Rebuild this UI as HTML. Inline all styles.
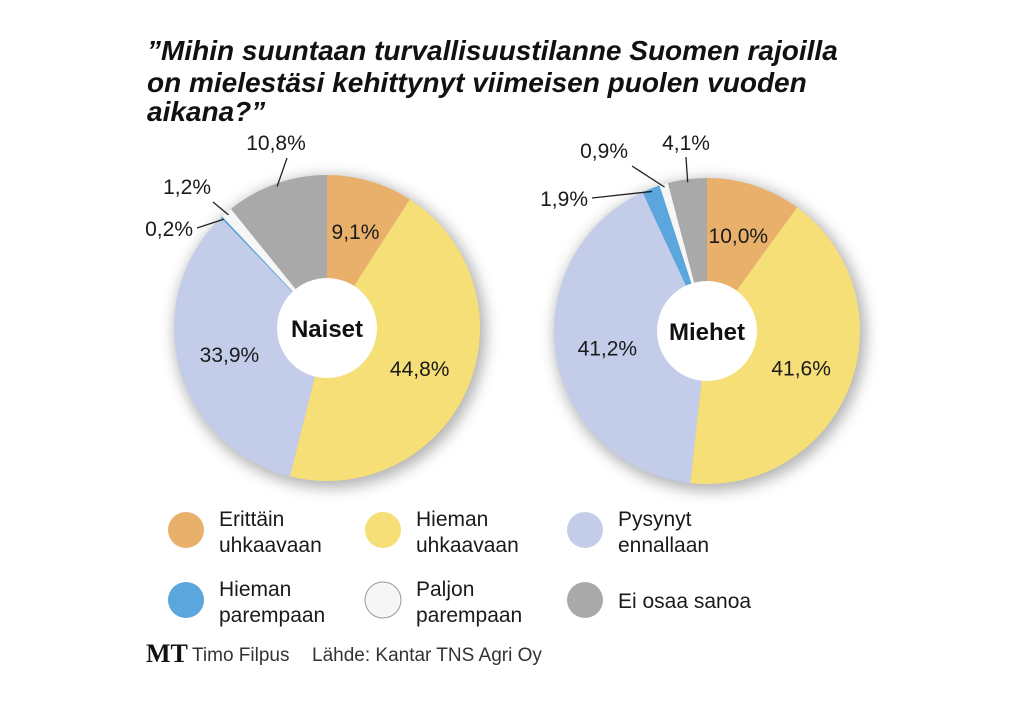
<!DOCTYPE html>
<html><head><meta charset="utf-8"><style>
body{margin:0;background:#fff;width:1019px;height:702px;overflow:hidden;font-family:"Liberation Sans",sans-serif;}
svg{position:absolute;left:0;top:0}
</style></head><body>
<svg id="c" width="1019" height="702">
<defs><filter id="sh" x="-20%" y="-20%" width="140%" height="140%"><feGaussianBlur stdDeviation="7"/></filter></defs>
<g font-weight="bold" font-style="italic" font-size="28" fill="#111">
<text x="147" y="60">”Mihin suuntaan turvallisuustilanne Suomen rajoilla</text>
<text x="147" y="92">on mielestäsi kehittynyt viimeisen puolen vuoden</text>
<text x="147" y="121">aikana?”</text>
</g>
</svg>
<script>
const categories=["Erittäin uhkaavaan","Hieman uhkaavaan","Pysynyt ennallaan","Hieman parempaan","Paljon parempaan","Ei osaa sanoa"];
const naisetValues=[9.1,44.8,33.9,0.2,1.2,10.8];
const miehetValues=[10.0,41.6,41.2,1.9,0.9,4.1];
const naisetLabels=["9,1%","44,8%","33,9%","0,2%","1,2%","10,8%"];
const miehetLabels=["10,0%","41,6%","41,2%","1,9%","0,9%","4,1%"];
const colors=["#e9b06c","#f6df77","#c3cde9","#5aa6dd","#f6f6f6","#a9a9a9"];
const NS="http://www.w3.org/2000/svg";
const svg=document.getElementById('c');
function mk(t,a,p){const e=document.createElementNS(NS,t);for(const k in a)e.setAttribute(k,a[k]);(p||svg).appendChild(e);return e;}
function pt(cx,cy,r,a){return [cx+r*Math.sin(a),cy-r*Math.cos(a)];}
function pie(name,cx,cy,R,vals,labels,title,lab){
  const g=mk('g',{});
  
  
  mk('circle',{cx:cx+3,cy:cy+4,r:R+3,fill:'#777',opacity:0.55,filter:'url(#sh)'},g);
  const tot=vals.reduce((a,b)=>a+b,0);let a0=0;
  vals.forEach((v,i)=>{
    const a1=a0+v/tot*2*Math.PI;
    const [x0,y0]=pt(cx,cy,R,a0),[x1,y1]=pt(cx,cy,R,a1);
    const p=mk('path',{d:`M${cx},${cy}L${x0},${y0}A${R},${R} 0 ${a1-a0>Math.PI?1:0} 1 ${x1},${y1}Z`,fill:colors[i]},g);
    
    
    a0=a1;
  });
  a0=0;
  vals.forEach((v,i)=>{
    const a1=a0+v/tot*2*Math.PI;
    const mid=(a0+a1)/2;
    let tx,ty,anchor='middle';
    const o=lab[i];
    if(!o){[tx,ty]=pt(cx,cy,R*0.66,mid);ty+=8;}
    else{
      const [lx0,ly0]=pt(cx,cy,R-3,mid);
      mk('line',{x1:lx0,y1:ly0,x2:o[3],y2:o[4],stroke:'#222','stroke-width':1.3},g);
      tx=o[0];ty=o[1];anchor=o[2];
    }
    const t=mk('text',{x:tx,y:ty,'text-anchor':anchor,'font-size':21,fill:'#1a1a1a'},g);
    t.textContent=labels[i];
    
    
    a0=a1;
  });
  mk('circle',{cx,cy,r:50,fill:'#fff'},g);
  const h=mk('text',{x:cx,y:cy+9,'text-anchor':'middle','font-size':24,'font-weight':'bold',fill:'#111'},g);
  h.textContent=title;
  
  
}
pie('pie-naiset',327,328,153,naisetValues,naisetLabels,'Naiset',{3:[193,236,'end',197,228],4:[211,194,'end',213,202],5:[276,150,'middle',287,158]});
pie('pie-miehet',707,331,153,miehetValues,miehetLabels,'Miehet',{3:[588,206,'end',592,198],4:[628,158,'end',632,166],5:[686,150,'middle',686,157]});
const lg=[[186,530],[383,530],[585,530],[186,600],[383,600],[585,600]];
const lt=[["Erittäin","uhkaavaan"],["Hieman","uhkaavaan"],["Pysynyt","ennallaan"],["Hieman","parempaan"],["Paljon","parempaan"],["Ei osaa sanoa"]];
categories.forEach((c,i)=>{
  const g=mk('g',{});
  
  
  mk('circle',{cx:lg[i][0],cy:lg[i][1],r:18,fill:colors[i],stroke:i==4?'#999':'none','stroke-width':1},g);
  const tx=lg[i][0]+33;
  if(lt[i].length==2){
    mk('text',{x:tx,y:lg[i][1]-4,'font-size':21,fill:'#1a1a1a'},g).textContent=lt[i][0];
    mk('text',{x:tx,y:lg[i][1]+22,'font-size':21,fill:'#1a1a1a'},g).textContent=lt[i][1];
  }else mk('text',{x:tx,y:lg[i][1]+8,'font-size':21,fill:'#1a1a1a'},g).textContent=lt[i][0];
});
const f=mk('g',{});


mk('text',{x:146,y:662,'font-size':26,'font-weight':'bold','font-family':'Liberation Serif',fill:'#111'},f).textContent='MT';
mk('text',{x:192,y:661,'font-size':19,fill:'#333'},f).textContent='Timo Filpus';
mk('text',{x:312,y:661,'font-size':19,fill:'#333'},f).textContent='Lähde: Kantar TNS Agri Oy';
</script>
</body></html>
